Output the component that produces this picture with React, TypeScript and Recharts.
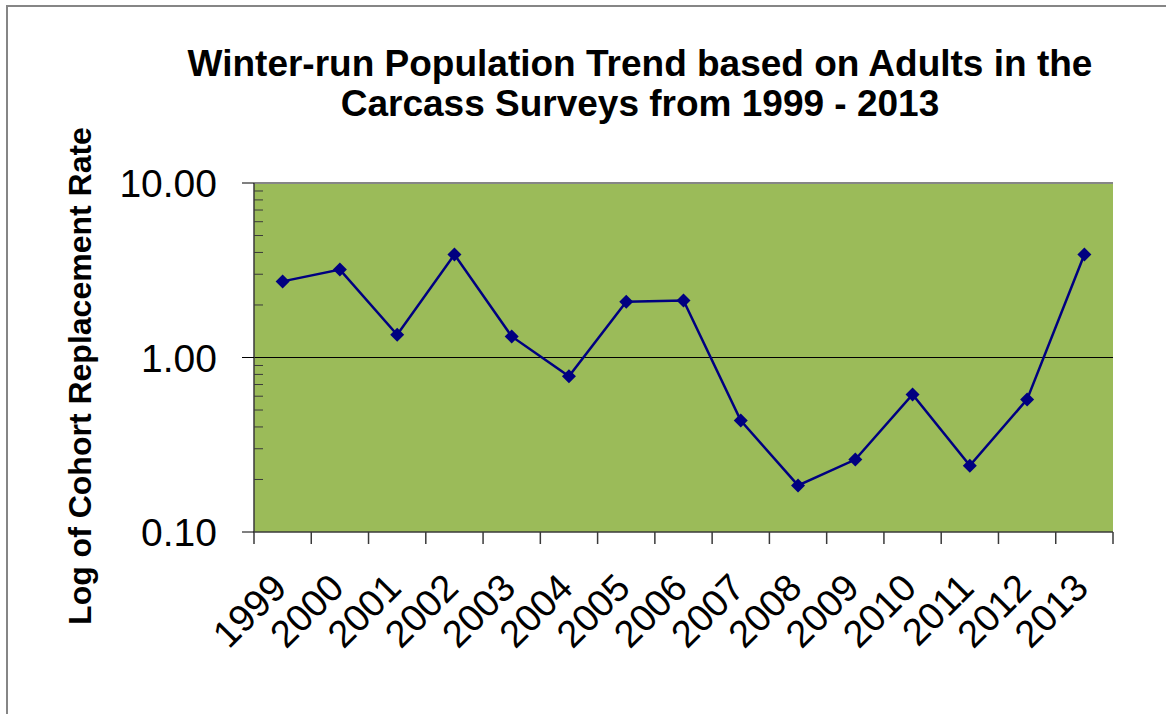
import { LineChart, Line, XAxis, YAxis, CartesianGrid, ReferenceLine } from 'recharts';

const years = ['1999', '2000', '2001', '2002', '2003', '2004', '2005', '2006', '2007', '2008', '2009', '2010', '2011', '2012', '2013'];
const replacementRate = [2.73, 3.19, 1.35, 3.89, 1.32, 0.78, 2.09, 2.12, 0.435, 0.185, 0.26, 0.614, 0.24, 0.575, 3.89];

const majorTicks = [0.1, 1, 10];
const yTicks = [0.1, 0.2, 0.3, 0.4, 0.5, 0.6, 0.7, 0.8, 0.9, 1, 2, 3, 4, 5, 6, 7, 8, 9, 10];

const data = years.map((year, i) => ({ year, rate: replacementRate[i] }));

const FONT = '"Liberation Sans", Arial, sans-serif';
const Y_TICK_SIZE = 12;
const Y_TICK_MARGIN = 25;

const YTick = (props: any) => {
  const { x, y, payload } = props;
  const ax = x + Y_TICK_SIZE + Y_TICK_MARGIN;
  const v = payload.value;
  if (majorTicks.includes(v)) {
    return (
      <g>
        <line x1={ax - 12} x2={ax} y1={y} y2={y} stroke="#000" strokeWidth={1} />
        <text x={x} y={y} dy="0.36em" textAnchor="end" fontSize={39} fontFamily={FONT} fill="#000">
          {v.toFixed(2)}
        </text>
      </g>
    );
  }
  return <line x1={ax} x2={ax + 9} y1={y} y2={y} stroke="#3a3a3a" strokeWidth={1} />;
};

const XTick = (props: any) => {
  const { x, y, payload, index, visibleTicksCount } = props;
  const half = payload.offset || 28.6;
  const last = index === visibleTicksCount - 1;
  return (
    <g>
      <line x1={x - half} x2={x - half} y1={y} y2={y + 12} stroke="#3a3a3a" strokeWidth={1.5} />
      {last && <line x1={x + half} x2={x + half} y1={y} y2={y + 12} stroke="#3a3a3a" strokeWidth={1.5} />}
      <text
        x={x + 6}
        y={y + 58}
        textAnchor="end"
        transform={`rotate(-45, ${x + 6}, ${y + 58})`}
        fontSize={38}
        fontFamily={FONT}
        fill="#000"
      >
        {payload.value}
      </text>
    </g>
  );
};

const Diamond = (props: any) => {
  const { cx, cy } = props;
  if (cx == null || cy == null) return null;
  const r = 7;
  return <polygon points={`${cx},${cy - r} ${cx + r},${cy} ${cx},${cy + r} ${cx - r},${cy}`} fill="#000080" />;
};

export default function App() {
  return (
    <div style={{ position: 'fixed', left: 0, top: 0, width: 1166, height: 714, overflow: 'hidden', background: '#fff' }}>
      <div style={{ position: 'absolute', left: 6, top: 5, width: 2000, height: 2000, border: '2px solid #868686' }} />
      <div
        style={{
          position: 'absolute',
          left: 0,
          top: 44,
          width: 1280,
          textAlign: 'center',
          fontFamily: FONT,
          fontWeight: 'bold',
          fontSize: 37,
          lineHeight: '40px',
          color: '#000',
        }}
      >
        Winter-run Population Trend based on Adults in the
        <br />
        Carcass Surveys from 1999 - 2013
      </div>
      <div
        style={{
          position: 'absolute',
          left: 80 - 300,
          top: 376 - 16,
          width: 600,
          textAlign: 'center',
          fontFamily: FONT,
          fontWeight: 'bold',
          fontSize: 32,
          lineHeight: '32px',
          transform: 'rotate(-90deg)',
          color: '#000',
          whiteSpace: 'nowrap',
        }}
      >
        Log of Cohort Replacement Rate
      </div>
      <div style={{ position: 'absolute', left: 0, top: 0 }}>
        <LineChart width={1166} height={714} data={data} margin={{ top: 183, right: 53, bottom: 152, left: 194 }}>
          <CartesianGrid fill="#9BBB59" horizontal={false} vertical={false} />
          <XAxis
            dataKey="year"
            scale="band"
            interval={0}
            height={30}
            tickLine={false}
            tickSize={0}
            tickMargin={0}
            tick={<XTick />}
            axisLine={{ stroke: '#3a3a3a', strokeWidth: 1.5 }}
          />
          <YAxis
            scale="log"
            domain={[0.1, 10]}
            ticks={yTicks}
            interval={0}
            allowDataOverflow
            width={60}
            tickLine={false}
            tickSize={Y_TICK_SIZE}
            tickMargin={Y_TICK_MARGIN}
            tick={<YTick />}
            axisLine={{ stroke: '#3a3a3a', strokeWidth: 1.5 }}
          />
          <YAxis
            yAxisId="right"
            orientation="right"
            scale="log"
            domain={[0.1, 10]}
            width={0}
            tick={false}
            tickLine={false}
            axisLine={{ stroke: '#868686', strokeWidth: 2 }}
          />
          <ReferenceLine y={10} stroke="#868686" strokeWidth={2} />
          <ReferenceLine y={1} stroke="#000" strokeWidth={1} />
          <Line
            type="linear"
            dataKey="rate"
            stroke="#000080"
            strokeWidth={2.5}
            dot={<Diamond />}
            activeDot={false}
            isAnimationActive={false}
          />
        </LineChart>
      </div>
    </div>
  );
}
